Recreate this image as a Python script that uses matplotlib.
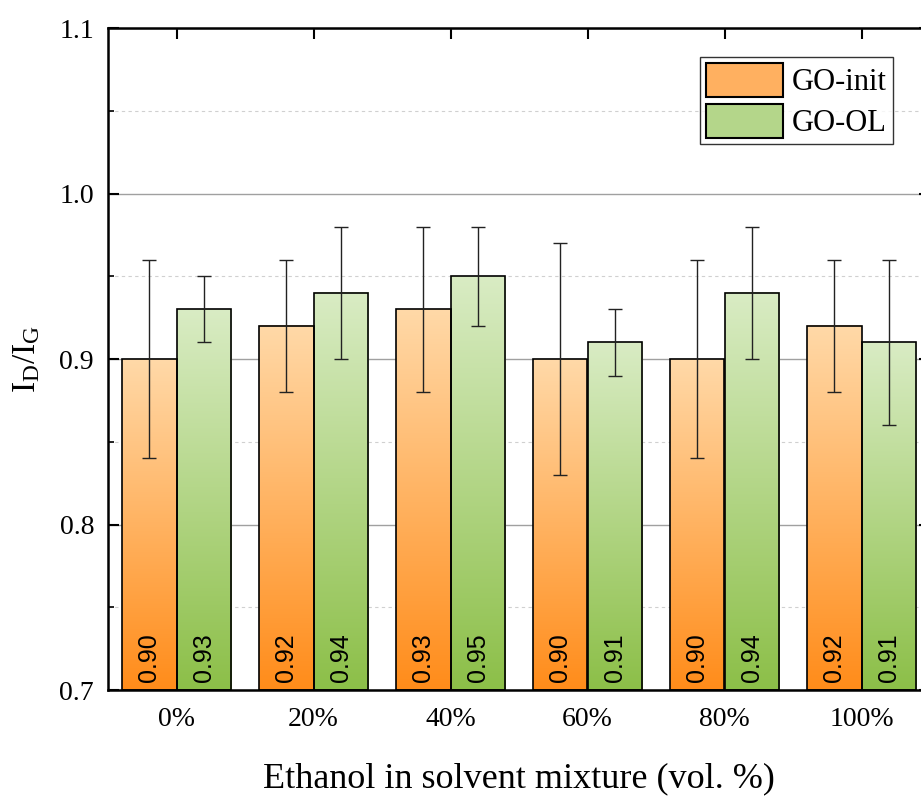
import matplotlib
matplotlib.use('Agg')
import matplotlib.pyplot as plt
import numpy as np
from matplotlib.colors import LinearSegmentedColormap
from matplotlib.patches import Patch

plt.rcParams['font.family'] = 'Liberation Serif'
plt.rcParams['mathtext.fontset'] = 'custom'
plt.rcParams['mathtext.rm'] = 'Liberation Serif'

# data
categories = ['0%', '20%', '40%', '60%', '80%', '100%']
go_init = [0.90, 0.92, 0.93, 0.90, 0.90, 0.92]
go_init_err = [0.06, 0.04, 0.05, 0.07, 0.06, 0.04]
go_ol = [0.93, 0.94, 0.95, 0.91, 0.94, 0.91]
go_ol_err = [0.02, 0.04, 0.03, 0.02, 0.04, 0.05]

orange_cmap = LinearSegmentedColormap.from_list('orng', ['#ff8c1a', '#ffd9a8'])
green_cmap = LinearSegmentedColormap.from_list('grn', ['#8cbf48', '#d9ecc4'])

fig = plt.figure(figsize=(9.21, 7.96), dpi=100)
ax = fig.add_axes([108 / 921, 106 / 796, 822 / 921, 662 / 796])

ymin, ymax = 0.7, 1.1
width = 0.4
x = np.arange(len(categories))
grad = np.linspace(0, 1, 256).reshape(-1, 1)

def draw_series(vals, errs, offset, cmap):
    for xi, v, e in zip(x, vals, errs):
        x0 = xi + offset - width / 2
        ax.imshow(grad, extent=[x0, x0 + width, ymin, v], origin='lower',
                  aspect='auto', cmap=cmap, zorder=2, interpolation='bilinear')
    ax.bar(x + offset, np.array(vals) - ymin, width, bottom=ymin,
           facecolor='none', edgecolor='black', linewidth=1.2, zorder=3)
    ax.errorbar(x + offset, vals, yerr=errs, fmt='none', ecolor='#222222',
                elinewidth=1.0, capsize=5, capthick=1.0, zorder=4)
    for xi, v in zip(x, vals):
        ax.text(xi + offset, ymin + 0.005, f'{v:.2f}', rotation=90,
                ha='center', va='bottom', fontsize=18,
                family='Liberation Sans', zorder=5)

draw_series(go_init, go_init_err, -width / 2, orange_cmap)
draw_series(go_ol, go_ol_err, width / 2, green_cmap)

ax.set_xlim(-0.5, len(categories) - 0.5)
ax.set_ylim(ymin, ymax)
ax.set_yticks([0.7, 0.8, 0.9, 1.0, 1.1])
ax.set_yticks([0.75, 0.85, 0.95, 1.05], minor=True)
ax.set_xticks(x)
ax.set_xticklabels(categories)

ax.grid(axis='y', which='major', color='#a0a0a0', linewidth=1.0, zorder=0)
ax.grid(axis='y', which='minor', color='#d0d0d0', linestyle=(0, (3, 3)), linewidth=0.8, zorder=0)
ax.set_axisbelow(True)

ax.tick_params(axis='y', which='major', direction='in', length=8, width=1.5,
               labelsize=20, pad=10, right=True)
ax.tick_params(axis='y', which='minor', direction='in', length=4, width=1.2, right=True)
ax.tick_params(axis='x', which='major', direction='in', length=8, width=1.5,
               labelsize=20, pad=12, top=True, bottom=False)
for s in ax.spines.values():
    s.set_linewidth(1.8)

ax.set_ylabel(r'$\mathregular{I_D/I_G}$', fontsize=24, labelpad=12)
ax.set_xlabel('Ethanol in solvent mixture (vol. %)', fontsize=26, labelpad=22)

handles = [Patch(facecolor='#ffb060', edgecolor='black', label='GO-init'),
           Patch(facecolor='#b4d68a', edgecolor='black', label='GO-OL')]
leg = ax.legend(handles=handles, loc='upper right', bbox_to_anchor=((893 - 108) / 822, 1 - 29 / 662),
                fontsize=22, frameon=True, fancybox=False, edgecolor='black',
                handlelength=2.5, handleheight=1.35, borderpad=0.2, labelspacing=0.2,
                handletextpad=0.3, borderaxespad=0)
leg.get_frame().set_linewidth(1.0)
for h in leg.legend_handles:
    h.set_linewidth(1.5)

fig.savefig('out.png', dpi=100)
